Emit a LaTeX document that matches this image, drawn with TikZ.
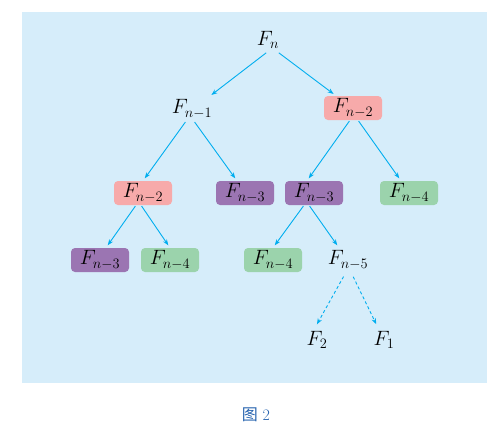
\documentclass[tikz,border=0pt]{standalone}
\usepackage{fontspec}
\newfontfamily\cjk{Noto Sans CJK SC}
\usetikzlibrary{arrows.meta}
\definecolor{bgBlue}{RGB}{214,237,250}
\definecolor{lineCyan}{RGB}{0,174,239}
\definecolor{boxPink}{RGB}{247,170,170}
\definecolor{boxPurple}{RGB}{155,117,178}
\definecolor{boxGreen}{RGB}{155,211,172}
\definecolor{capBlue}{RGB}{40,100,175}
\begin{document}
\begin{tikzpicture}[
        % 像素坐标:y 轴向下
        x={(1pt,0pt)},
        y={(0pt,-1pt)},
        term/.style={minimum width=58pt, minimum height=24pt, inner sep=0pt,
                     font=\huge},
        pinkBox/.style={term, fill=boxPink, rounded corners=4pt},
        purpleBox/.style={term, fill=boxPurple, rounded corners=4pt},
        greenBox/.style={term, fill=boxGreen, rounded corners=4pt},
        link/.style={-{Stealth[length=6pt,width=4.5pt]}, line width=0.9pt, lineCyan,
                     shorten >=3pt, shorten <=1pt},
        dashLink/.style={link, dash pattern=on 3pt off 2.5pt, shorten >=4pt, shorten <=5pt}
    ]

    % --- 背景 ---
    \useasboundingbox (0,0) rectangle (504,432);
    \fill[bgBlue] (22,12) rectangle (487,383);

    % --- 1. 各层结点 ---
    \node[term] (fn) at (268,40) {$F_n$};

    \node[term] (fnA) at (192,109) {$F_{n-1}$};
    \node[pinkBox] (fnB) at (353,108) {$F_{n-2}$};

    \node[pinkBox] (fnAA) at (143,193) {$F_{n-2}$};
    \node[purpleBox] (fnAB) at (245,193) {$F_{n-3}$};
    \node[purpleBox] (fnBA) at (314,193) {$F_{n-3}$};
    \node[greenBox] (fnBB) at (409,193) {$F_{n-4}$};

    \node[purpleBox] (fnAAA) at (100,260) {$F_{n-3}$};
    \node[greenBox] (fnAAB) at (170,260) {$F_{n-4}$};
    \node[greenBox] (fnBAA) at (273,260) {$F_{n-4}$};
    \node[term] (fnBAB) at (348,260) {$F_{n-5}$};

    \node[term] (fTwo) at (317,340) {$F_2$};
    \node[term] (fOne) at (384,340) {$F_1$};

    % --- 2. 箭头 ---
    \draw[link] ([xshift=-1pt]fn.south) -- ([xshift=17pt]fnA.north);
    \draw[link] ([xshift=10pt]fn.south) -- ([xshift=-17pt]fnB.north);

    \draw[link] ([xshift=-6pt]fnA.south) -- (fnAA.north);
    \draw[link] ([xshift=2pt]fnA.south) -- ([xshift=-8pt]fnAB.north);
    \draw[link] ([xshift=-3pt]fnB.south) -- ([xshift=-7pt]fnBA.north);
    \draw[link] ([xshift=5pt]fnB.south) -- ([xshift=-8pt]fnBB.north);

    \draw[link] ([xshift=-7pt]fnAA.south) -- ([xshift=6pt]fnAAA.north);
    \draw[link] ([xshift=-2pt]fnAA.south) -- (fnAAB.north);
    \draw[link] ([xshift=-10pt]fnBA.south) -- (fnBAA.north);
    \draw[link] ([xshift=-5pt]fnBA.south) -- ([xshift=-9pt]fnBAB.north);

    % 省略部分用虚线
    \draw[dashLink] ([xshift=-2pt]fnBAB.south) -- ([xshift=-2pt]fTwo.north);
    \draw[dashLink] ([xshift=3pt]fnBAB.south) -- ([xshift=-6pt]fOne.north);

    % --- 3. 图题 ---
    \node[capBlue, font=\fontsize{16}{18}\selectfont] (caption) at (256,415) {{\cjk 图}\ 2};

\end{tikzpicture}
\end{document}
